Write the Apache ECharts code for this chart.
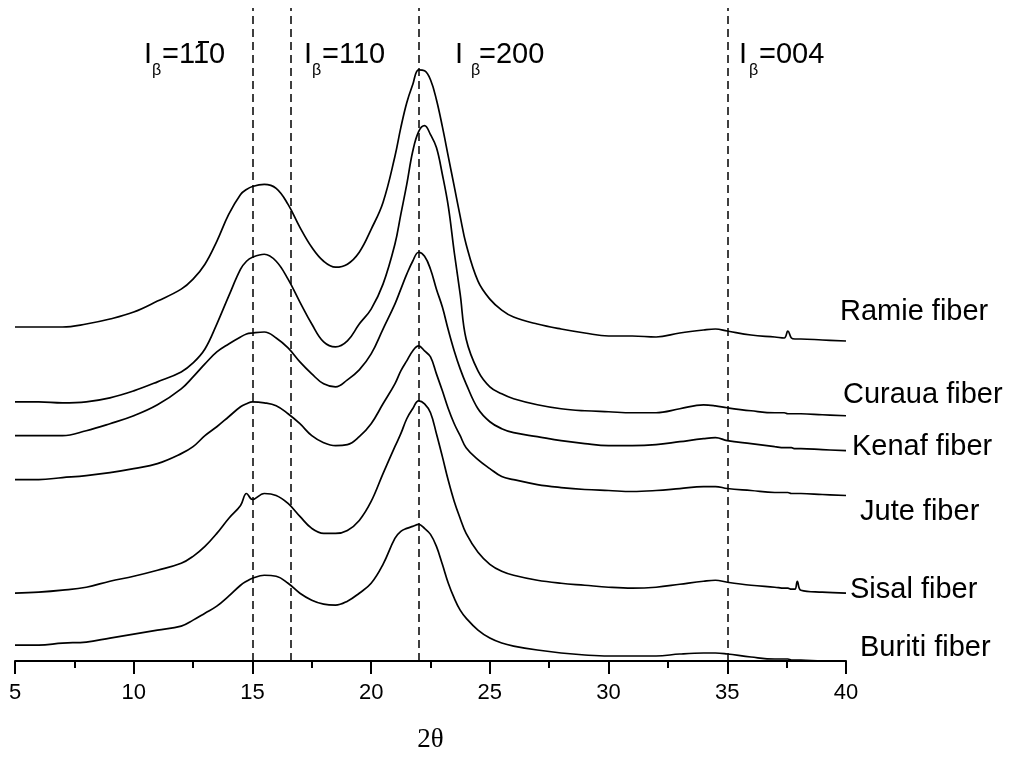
<!DOCTYPE html>
<html>
<head>
<meta charset="utf-8">
<title>XRD patterns of natural fibers</title>
<script src="https://cdn.jsdelivr.net/npm/echarts@6/dist/echarts.min.js"></script>
<style>
  html, body { margin: 0; padding: 0; background: #fff; }
  #chart { width: 1015px; height: 758px; }
</style>
</head>
<body>
<div id="chart"></div>
<script>
// Diffraction angle grid (2θ, degrees)
const twoTheta = [
  5, 6, 7, 8, 9, 10, 11, 12,
  12.5, 13, 13.5, 14, 14.5, 14.75, 15,
  15.5, 16, 16.5, 17, 17.5, 18, 18.5, 19, 19.5, 20,
  20.5, 21, 21.25, 21.5, 21.75, 22, 22.25, 22.5, 22.75, 23,
  23.25, 23.5, 23.75, 24, 24.5, 25, 25.5, 26,
  27, 28, 29, 30, 31, 32, 33, 34, 34.5, 35,
  36, 37, 37.4, 37.55, 37.7, 37.85, 37.95, 38.1, 39, 40
];

// Intensities (a.u., patterns offset vertically)
const ramie = [
  335, 335, 335, 338, 343, 350, 361, 373,
  383, 398, 421, 448, 468, 473, 476,
  478, 474, 458, 435, 415, 401, 395, 398, 410, 433,
  460, 506, 535, 560, 578, 593, 592, 583, 563, 536,
  506, 476, 446, 418, 381, 363, 352, 345,
  338, 333, 329, 326, 326, 325, 329, 332, 333, 331,
  327, 325, 324, 331, 324, 323, 323, 323, 322, 321
];
const curaua = [
  260, 260, 259, 260, 264, 271, 280, 290,
  299, 313, 338, 366, 393, 401, 405,
  408, 401, 383, 360, 338, 320, 315, 321, 338, 353,
  378, 418, 448, 478, 511, 531, 537, 528, 515, 488,
  456, 410, 368, 323, 291, 275, 268, 263,
  257, 253, 251, 250, 249, 249, 253, 257, 256, 254,
  251, 249, 249, 248, 248, 248, 248, 248, 247, 246
];
const kenaf = [
  226, 226, 226, 231, 238, 246, 257, 273,
  285, 298, 310, 318, 325, 328, 329,
  330, 324, 314, 300, 288, 278, 275, 282, 292, 308,
  333, 358, 373, 388, 401, 410, 406, 393, 373, 355,
  332, 311, 293, 278, 253, 240, 233, 229,
  225, 221, 218, 216, 216, 217, 220, 223, 224, 221,
  218, 215, 214, 214, 214, 213, 213, 213, 212, 211
];
const jute = [
  182, 182, 184, 186, 189, 193, 198, 208,
  215, 226, 235, 245, 255, 258, 260,
  259, 256, 248, 238, 226, 219, 216, 217, 225, 238,
  258, 278, 291, 301, 311, 316, 311, 305, 288, 271,
  253, 238, 226, 214, 202, 193, 185, 182,
  177, 174, 172, 171, 170, 171, 173, 175, 175, 173,
  171, 169, 169, 169, 168, 168, 168, 168, 167, 166
];
const sisal = [
  68, 69, 71, 74, 80, 85, 91, 98,
  105, 115, 128, 143, 156, 168, 162,
  168, 166, 158, 145, 133, 128, 128, 131, 141, 160,
  188, 215, 228, 243, 253, 261, 258, 249, 228, 205,
  181, 160, 143, 128, 109, 97, 90, 86,
  81, 78, 76, 74, 73, 74, 77, 80, 81, 79,
  76, 74, 73, 73, 72, 72, 80, 71, 69, 68
];
const buriti = [
  16, 16, 18, 19, 23, 27, 31, 35,
  41, 48, 55, 65, 76, 80, 83,
  86, 85, 78, 68, 61, 57, 56, 60, 68, 78,
  97, 123, 130, 133, 135, 137, 133, 127, 115, 97,
  78, 63, 51, 43, 31, 23, 18, 15,
  11, 8, 6, 5, 5, 5, 7, 8, 8, 7,
  4, 2, 2, 2, 1, 1, 1, 1, 0, 0
];

const seriesNames = ['Ramie fiber', 'Curaua fiber', 'Kenaf fiber', 'Jute fiber', 'Sisal fiber', 'Buriti fiber'];
const seriesValues = [ramie, curaua, kenaf, jute, sisal, buriti];

// Cellulose Iβ reflections marked by dashed lines
const planeAngles = [15, 16.6, 22, 35];
const planeIndices = ['110', '110', '200', '004'];

const SANS = '"Liberation Sans", Arial, sans-serif';

const chart = echarts.init(document.getElementById('chart'), null, { renderer: 'canvas' });

const series = seriesValues.map((vals, k) => ({
  name: seriesNames[k],
  type: 'line',
  data: twoTheta.map((t, i) => [t, vals[i]]),
  showSymbol: false,
  smooth: 0.4,
  lineStyle: { color: '#000', width: 1.7 },
  silent: true,
  z: 3
}));

series[0].markLine = {
  silent: true,
  symbol: 'none',
  label: { show: false },
  lineStyle: { color: '#000', width: 1.5, type: [8, 5] },
  data: planeAngles.map(a => ({ xAxis: a }))
};

// Curve names at the right-hand side
const nameSpots = [[840, 312], [843, 395], [852, 447], [860, 512], [850, 590], [860, 648]];
const graphics = seriesNames.map((n, k) => ({
  type: 'text',
  x: nameSpots[k][0],
  y: nameSpots[k][1],
  silent: true,
  style: { text: n, font: '29px ' + SANS, fill: '#000', align: 'left', verticalAlign: 'middle' }
}));

// Reflection labels: I + subscript β + "=hkl"
const labelSpots = [
  { i: 144, b: 152, e: 162 },
  { i: 304, b: 312, e: 322 },
  { i: 455, b: 471, e: 479 },
  { i: 739, b: 749, e: 759 }
];
planeIndices.forEach((hkl, k) => {
  const p = labelSpots[k];
  graphics.push({ type: 'text', x: p.i, y: 55, silent: true,
    style: { text: 'I', font: '29px ' + SANS, fill: '#000', verticalAlign: 'middle' } });
  graphics.push({ type: 'text', x: p.b, y: 71, silent: true,
    style: { text: 'β', font: '16px ' + SANS, fill: '#000', verticalAlign: 'middle' } });
  graphics.push({ type: 'text', x: p.e, y: 55, silent: true,
    style: { text: '=' + hkl, font: '29px ' + SANS, fill: '#000', verticalAlign: 'middle' } });
});
// bar over the middle index of (1 -1 0)
graphics.push({ type: 'line', silent: true,
  shape: { x1: 198, y1: 42, x2: 209, y2: 42 },
  style: { stroke: '#000', lineWidth: 2 } });

chart.setOption({
  animation: false,
  backgroundColor: '#fff',
  grid: { left: 15, right: 169, top: 8, bottom: 95, containLabel: false },
  xAxis: {
    type: 'value',
    min: 5, max: 40, interval: 5,
    name: '2θ',
    nameLocation: 'middle',
    nameGap: 65,
    nameTextStyle: { fontSize: 27, fontFamily: '"Liberation Serif", serif', color: '#000' },
    axisLine: { onZero: false, lineStyle: { color: '#000', width: 2 } },
    axisTick: { length: 13, lineStyle: { color: '#000', width: 2 } },
    minorTick: { show: true, splitNumber: 2, length: 7, lineStyle: { color: '#000', width: 2 } },
    axisLabel: { fontSize: 22, fontFamily: SANS, color: '#000', margin: 21 },
    splitLine: { show: false },
    minorSplitLine: { show: false }
  },
  yAxis: {
    type: 'value', min: 0, max: 655, show: false,
    splitLine: { show: false }
  },
  series: series,
  graphic: graphics
});
</script>
</body>
</html>
